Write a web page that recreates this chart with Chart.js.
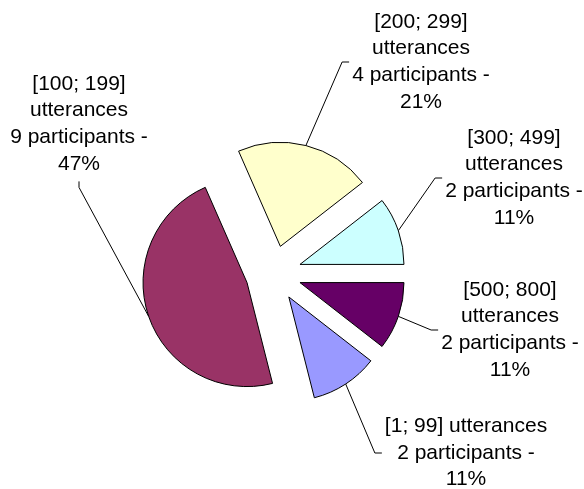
<!DOCTYPE html>
<html>
<head>
<meta charset="utf-8">
<script src="https://cdn.jsdelivr.net/npm/chart.js@4.4.1/dist/chart.umd.min.js"></script>
<style>
  html, body { margin: 0; padding: 0; background: #fff; }
  #wrap { width: 584px; height: 489px; position: relative; }
</style>
</head>
<body>
<div id="wrap"><canvas id="pie"></canvas></div>
<script>
// Utterance ranges and how many participants fall into each
const ranges = ['[1; 99]', '[100; 199]', '[200; 299]', '[300; 499]', '[500; 800]'];
const participants = [2, 9, 4, 2, 2];

// Slice fills (old Excel palette)
const sliceColors = ['#9999FF', '#993366', '#FFFFCC', '#CCFFFF', '#660066'];

// Label box centres and the side where the leader line attaches
const labelCenters = [[466, 453], [79, 124], [421, 62], [514, 178], [510, 330]];
const labelAttach = ['left', 'bottom', 'left', 'left', 'left'];

const FONT = '21px "Liberation Sans", Arial, sans-serif';
const LINE_H = 26.7;
const EXPLODE = 28; // px every slice is pulled out from the centre

const total = participants.reduce((a, b) => a + b, 0);

// greedy word wrap for label text
function wrap(ctx, text, maxW) {
  const words = text.split(' ');
  const out = [];
  let cur = '';
  words.forEach(w => {
    const t = cur ? cur + ' ' + w : w;
    if (cur && ctx.measureText(t).width > maxW) {
      out.push(cur);
      cur = w;
    } else {
      cur = t;
    }
  });
  if (cur) out.push(cur);
  return out;
}

// Pull each slice out along its middle angle (Excel style explosion)
const explodePlugin = {
  id: 'explode',
  beforeDatasetsDraw(chart) {
    const ca = chart.chartArea;
    const cx = (ca.left + ca.right) / 2;
    const cy = (ca.top + ca.bottom) / 2;
    chart.getDatasetMeta(0).data.forEach(arc => {
      const mid = (arc.startAngle + arc.endAngle) / 2;
      arc.x = cx + Math.cos(mid) * EXPLODE;
      arc.y = cy + Math.sin(mid) * EXPLODE;
    });
  }
};

// Data labels with leader lines
const labelPlugin = {
  id: 'calloutLabels',
  afterDatasetsDraw(chart) {
    const ctx = chart.ctx;
    ctx.save();
    ctx.font = FONT;
    ctx.fillStyle = '#000';
    ctx.strokeStyle = '#000';
    ctx.lineWidth = 1;
    ctx.textAlign = 'center';
    ctx.textBaseline = 'middle';
    chart.getDatasetMeta(0).data.forEach((arc, i) => {
      const pct = Math.round(participants[i] / total * 100);
      const lines = wrap(ctx, ranges[i] + ' utterances', 170)
        .concat(wrap(ctx, participants[i] + ' participants - ' + pct + '%', 170));
      const [lx, ly] = labelCenters[i];
      const h = lines.length * LINE_H;
      const w = Math.max(...lines.map(l => ctx.measureText(l).width));
      const top = ly - h / 2;
      lines.forEach((l, k) => ctx.fillText(l, lx, top + LINE_H * (k + 0.5)));

      const mid = (arc.startAngle + arc.endAngle) / 2;
      const r = arc.outerRadius;
      const sx = arc.x + Math.cos(mid) * r;
      const sy = arc.y + Math.sin(mid) * r;
      let ax, ay, ex, ey;
      if (labelAttach[i] === 'left') {
        ax = lx - w / 2 - 3; ay = ly;
        ex = ax - 7; ey = ay;
      } else {
        ax = lx; ay = ly + h / 2 + 4;
        ex = ax; ey = ay + 6;
      }
      ctx.beginPath();
      ctx.moveTo(sx, sy);
      ctx.lineTo(ex, ey);
      ctx.lineTo(ax, ay);
      ctx.stroke();
    });
    ctx.restore();
  }
};

new Chart(document.getElementById('pie'), {
  type: 'pie',
  data: {
    labels: ranges,
    datasets: [{
      data: participants,
      backgroundColor: sliceColors,
      borderColor: '#000',
      borderWidth: 1,
      borderJoinStyle: 'miter'
    }]
  },
  options: {
    responsive: true,
    maintainAspectRatio: false,
    animation: false,
    // boundary between the last two slices sits at 3 o'clock
    rotation: 90 + 360 * participants[4] / total,
    radius: 104,
    layout: { padding: { left: 0, right: 37, top: 58, bottom: 0 } },
    plugins: {
      legend: { display: false },
      tooltip: { enabled: false }
    }
  },
  plugins: [explodePlugin, labelPlugin]
});
</script>
</body>
</html>
